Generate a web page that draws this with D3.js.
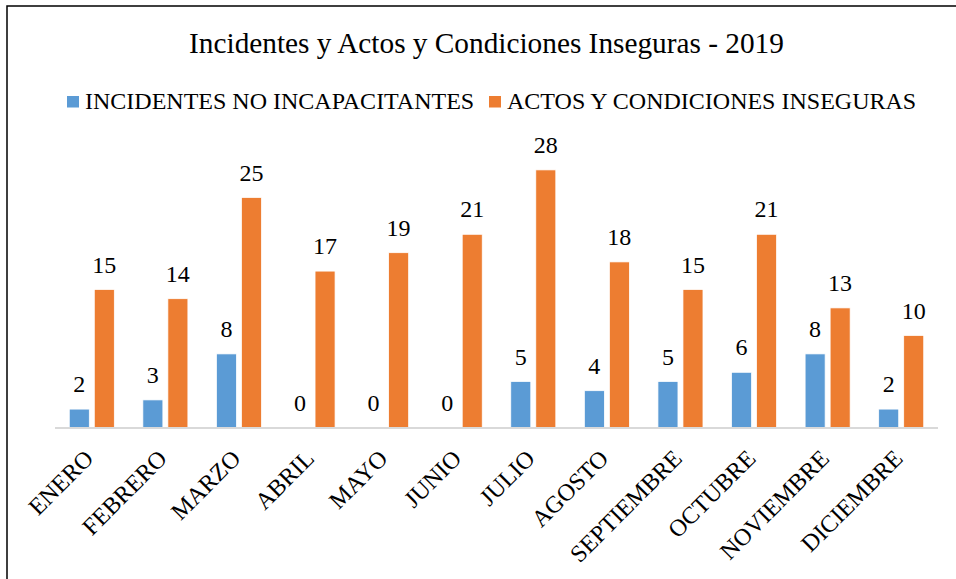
<!DOCTYPE html>
<html>
  <head>
    <meta charset="utf-8">
    <title>Incidentes y Actos y Condiciones Inseguras - 2019</title>
    <script src="https://cdnjs.cloudflare.com/ajax/libs/d3/7.8.5/d3.min.js"></script>
    <style>
      body { margin: 0; background: #fff; }
    </style>
  </head>
  <body>
    <script>
      // data
      var months = ["ENERO", "FEBRERO", "MARZO", "ABRIL", "MAYO", "JUNIO",
                    "JULIO", "AGOSTO", "SEPTIEMBRE", "OCTUBRE", "NOVIEMBRE", "DICIEMBRE"];
      var seriesNames = ["INCIDENTES NO INCAPACITANTES", "ACTOS Y CONDICIONES INSEGURAS"];
      var incidentes = [2, 3, 8, 0, 0, 0, 5, 4, 5, 6, 8, 2];
      var actos = [15, 14, 25, 17, 19, 21, 28, 18, 15, 21, 13, 10];
      var colors = ["#5B9BD5", "#ED7D31"];

      var width = 956, height = 579;
      var serif = "'Liberation Serif', 'Times New Roman', Times, serif";

      var svg = d3.select("body").append("svg")
                  .attr("width", width)
                  .attr("height", height)
                  .style("font-family", serif);

      // chart frame
      svg.append("rect")
         .attr("x", 7).attr("y", 6)
         .attr("width", 1200).attr("height", 1200)
         .attr("fill", "none")
         .attr("stroke", "#000")
         .attr("stroke-width", 1.5);

      svg.append("text")
         .attr("x", 486.5).attr("y", 53)
         .attr("text-anchor", "middle")
         .style("font-size", "29.3px")
         .text("Incidentes y Actos y Condiciones Inseguras - 2019");

      // legend
      var legendX = [67, 489];
      var legend = svg.selectAll("g.legend").data(seriesNames).enter()
                      .append("g").attr("class", "legend")
                      .attr("transform", function(d, i){ return "translate(" + legendX[i] + ",0)"; });
      legend.append("rect")
            .attr("x", 0).attr("y", 96)
            .attr("width", 12).attr("height", 11.5)
            .attr("fill", function(d, i){ return colors[i]; });
      legend.append("text")
            .attr("x", 18).attr("y", 109)
            .style("font-size", "24px")
            .text(function(d){ return d; });

      // scales
      var y = d3.scaleLinear().domain([0, 30]).range([427.5, 151.5]);
      var x0 = d3.scaleBand().domain(months).range([55, 938])
                 .paddingInner(0.388).paddingOuter(0.194);
      var x1 = d3.scaleBand().domain([0, 1]).range([0, x0.bandwidth()]).paddingInner(0.2);

      var rows = months.map(function(m, i){
        return {month: m, values: [incidentes[i], actos[i]]};
      });

      var groups = svg.selectAll("g.month").data(rows).enter()
                      .append("g").attr("class", "month")
                      .attr("transform", function(d){ return "translate(" + x0(d.month) + ",0)"; });

      var cells = groups.selectAll("g.cell")
                        .data(function(d){ return d.values.map(function(v, j){ return {s: j, v: v}; }); })
                        .enter().append("g").attr("class", "cell");

      cells.append("rect")
           .attr("x", function(d){ return x1(d.s); })
           .attr("y", function(d){ return y(d.v); })
           .attr("width", x1.bandwidth())
           .attr("height", function(d){ return y(0) - y(d.v); })
           .attr("fill", function(d){ return colors[d.s]; })
           .attr("stroke", "#fff")
           .attr("stroke-width", 0.75);

      cells.append("text")
           .attr("x", function(d){ return x1(d.s) + x1.bandwidth() / 2; })
           .attr("y", function(d){ return y(d.v) - 17; })
           .attr("text-anchor", "middle")
           .style("font-size", "24px")
           .text(function(d){ return d.v; });

      // category axis
      svg.append("line")
         .attr("x1", 55).attr("x2", 938)
         .attr("y1", y(0) + 0.5).attr("y2", y(0) + 0.5)
         .attr("stroke", "#D9D9D9")
         .attr("stroke-width", 2);

      svg.selectAll("text.cat").data(months).enter()
         .append("text").attr("class", "cat")
         .attr("text-anchor", "end")
         .style("font-size", "24px")
         .attr("transform", function(d){
           return "translate(" + (x0(d) + x0.bandwidth() / 2 + 3) + ",460) rotate(-45)";
         })
         .text(function(d){ return d; });
    </script>
  </body>
</html>
